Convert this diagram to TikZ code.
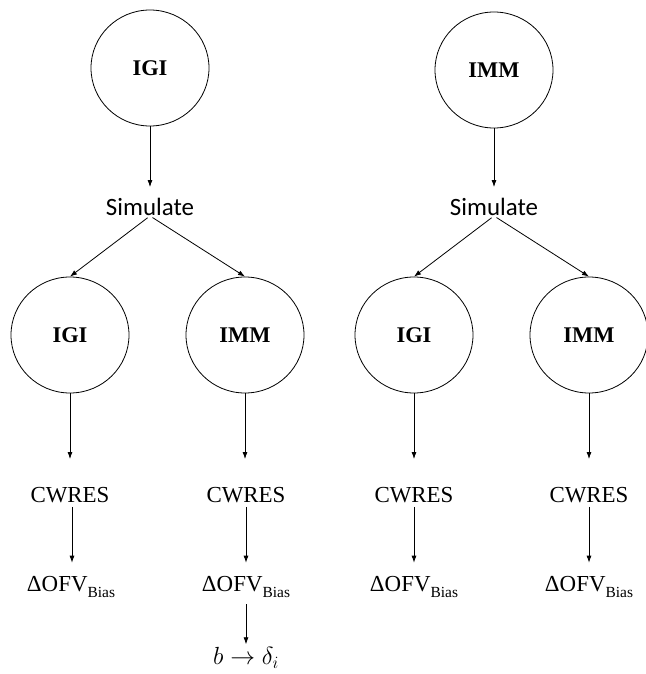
\documentclass[tikz,border=0pt]{standalone}
\usepackage{fontspec}
\setmainfont{Liberation Serif}
\newfontfamily\calib{Carlito}
\usetikzlibrary{shapes.geometric,arrows.meta}
\begin{document}
\begin{tikzpicture}[x=1bp,y=-1bp,
  model/.style={ellipse,draw,line width=0.8bp,minimum width=118bp,minimum height=116bp,inner sep=0pt,
    font=\fontsize{22.5}{25}\selectfont\bfseries},
  simtxt/.style={font=\calib\fontsize{25}{28}\selectfont,inner sep=0pt},
  restxt/.style={font=\fontsize{23}{26}\selectfont,inner sep=0pt},
  conn/.style={line width=0.8bp,-{Latex[length=7bp,width=5bp]}}]
\useasboundingbox (0,0) rectangle (646,674);
% top models
\node[model] (igiT) at (150,68) {IGI};
\node[model] (immT) at (494,70) {IMM};
\node[simtxt] (simL) at (150,207) {Simulate};
\node[simtxt] (simR) at (494,207) {Simulate};
% second level
\node[model] (m1) at (70,335) {IGI};
\node[model] (m2) at (245,335) {IMM};
\node[model] (m3) at (414,335) {IGI};
\node[model] (m4) at (589,335) {IMM};
% CWRES
\node[restxt] (c1) at (70,495) {CWRES};
\node[restxt] (c2) at (246,495) {CWRES};
\node[restxt] (c3) at (414,495) {CWRES};
\node[restxt] (c4) at (589,495) {CWRES};
% Delta OFV
\newcommand\dofv{ΔOFV\raisebox{-0.3em}{\fontsize{15.5}{15.5}\selectfont Bias}}
\node[restxt] (d1) at (71,587) {\dofv};
\node[restxt] (d2) at (246,587) {\dofv};
\node[restxt] (d3) at (414,587) {\dofv};
\node[restxt] (d4) at (589,587) {\dofv};
\node[font=\fontsize{25}{27}\selectfont,inner sep=0pt] (bd) at (246,658) {$b \rightarrow \delta_i$};
% connectors
\draw[conn,shorten >=11bp] (igiT.south) -- (simL.north);
\draw[conn,shorten >=11bp] (immT.south) -- (simR.north);
\draw[conn,shorten <=3bp] (simL.south) -- (m1.north);
\draw[conn,shorten <=3bp] (simL.south) -- (m2.north);
\draw[conn,shorten <=3bp] (simR.south) -- (m3.north);
\draw[conn,shorten <=3bp] (simR.south) -- (m4.north);
\foreach \i in {1,...,4}{
  \draw[conn,shorten >=28bp] (m\i.south) -- (m\i.south |- c\i.north);
}
\draw[conn,shorten <=4bp,shorten >=13bp] (c1.south -| 72,0) -- (72,0 |- d1.north);
\draw[conn,shorten <=4bp,shorten >=13bp] (c2.south) -- (c2.south |- d2.north);
\draw[conn,shorten <=4bp,shorten >=13bp] (c3.south) -- (c3.south |- d3.north);
\draw[conn,shorten <=4bp,shorten >=13bp] (c4.south) -- (c4.south |- d4.north);
\draw[conn,shorten <=6bp,shorten >=3bp] (d2.south -| bd.north) -- (bd.north);
\end{tikzpicture}
\end{document}
